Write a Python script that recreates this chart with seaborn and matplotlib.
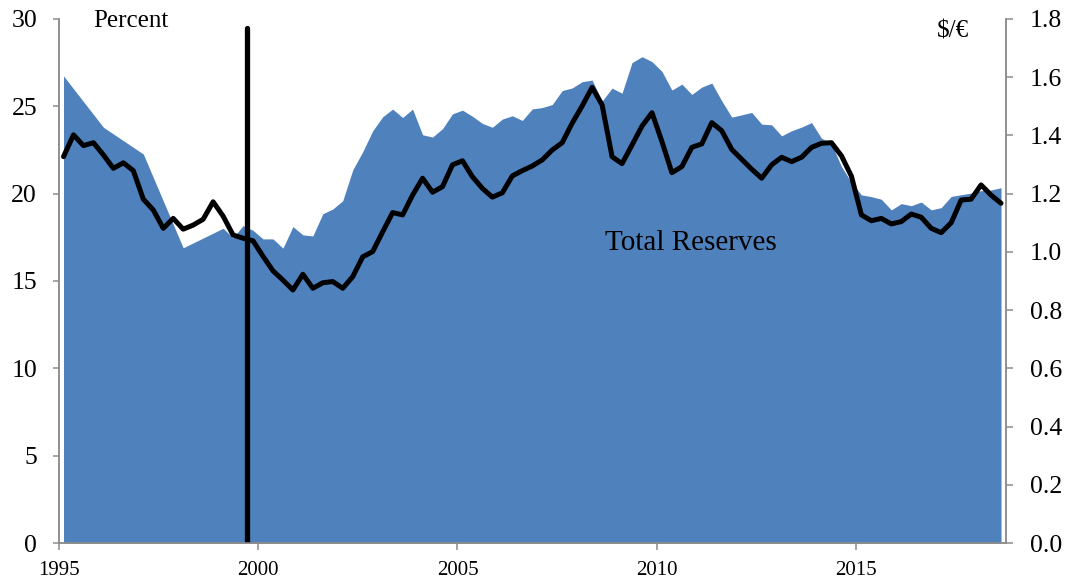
import numpy as np
import pandas as pd
import matplotlib
matplotlib.use('Agg')
import matplotlib.pyplot as plt
from matplotlib.ticker import FormatStrFormatter
import seaborn as sns

# quarterly series, 1995Q1 .. 2018Q3 (plotted mid-quarter)
start_year = 1995
n_quarters = 95

# $/€ exchange rate, quarterly average
usd_per_eur = [
    1.327, 1.402, 1.365, 1.375,   # 1995
    1.333, 1.287, 1.306, 1.279,   # 1996
    1.181, 1.144, 1.081, 1.115,   # 1997
    1.078, 1.092, 1.112, 1.172,   # 1998
    1.123, 1.058, 1.047, 1.038,   # 1999
    0.985, 0.935, 0.903, 0.869,   # 2000
    0.923, 0.875, 0.894, 0.898,   # 2001
    0.875, 0.915, 0.983, 1.001,   # 2002
    1.069, 1.135, 1.127, 1.195,   # 2003
    1.253, 1.205, 1.224, 1.299,   # 2004
    1.313, 1.258, 1.218, 1.188,   # 2005
    1.203, 1.261, 1.279, 1.295,   # 2006
    1.316, 1.350, 1.375, 1.442,   # 2007
    1.501, 1.565, 1.505, 1.327,   # 2008
    1.303, 1.367, 1.432, 1.478,   # 2009
    1.379, 1.272, 1.293, 1.359,   # 2010
    1.371, 1.444, 1.416, 1.352,   # 2011
    1.318, 1.284, 1.253, 1.299,   # 2012
    1.325, 1.310, 1.325, 1.359,   # 2013
    1.373, 1.375, 1.330, 1.260,   # 2014
    1.127, 1.107, 1.115, 1.096,   # 2015
    1.104, 1.130, 1.119, 1.081,   # 2016
    1.066, 1.100, 1.178, 1.181,   # 2017
    1.230, 1.195, 1.167,          # 2018
]

# euro share of total reserves (percent); annual only before 1999
reserves_pct = [
    26.74, None, None, None,      # 1995
    23.80, None, None, None,      # 1996
    22.27, None, None, None,      # 1997
    16.90, None, None, None,      # 1998
    18.02, 17.47, 18.17, 17.90,   # 1999
    17.41, 17.41, 16.88, 18.11,   # 2000
    17.64, 17.58, 18.85, 19.12,   # 2001
    19.60, 21.36, 22.40, 23.60,   # 2002
    24.40, 24.84, 24.36, 24.84,   # 2003
    23.37, 23.24, 23.72, 24.57,   # 2004
    24.78, 24.43, 24.02, 23.80,   # 2005
    24.27, 24.46, 24.19, 24.85,   # 2006
    24.93, 25.10, 25.90, 26.05,   # 2007
    26.41, 26.50, 25.30, 26.04,   # 2008
    25.75, 27.50, 27.84, 27.56,   # 2009
    27.00, 25.93, 26.27, 25.68,   # 2010
    26.10, 26.33, 25.31, 24.38,   # 2011
    24.51, 24.65, 23.98, 23.94,   # 2012
    23.31, 23.60, 23.81, 24.07,   # 2013
    23.17, 22.87, 21.55, 20.65,   # 2014
    19.93, 19.83, 19.68, 19.07,   # 2015
    19.43, 19.31, 19.52, 19.07,   # 2016
    19.20, 19.84, 19.94, 20.03,   # 2017
    20.17, 20.21, 20.34,          # 2018
]

euro_marker = 1999.72   # vertical marker line
year_ticks = [1995, 2000, 2005, 2010, 2015]

dates = start_year + (np.arange(n_quarters) + 0.5) / 4
df = pd.DataFrame({'date': dates, 'usd_eur': usd_per_eur,
                   'reserves': pd.to_numeric(pd.Series(reserves_pct), errors='coerce')})
area = df.dropna(subset=['reserves'])

sns.set_theme(style='white')
plt.rcParams['font.family'] = ['Liberation Serif', 'DejaVu Serif']
plt.rcParams['text.color'] = 'black'
plt.rcParams['xtick.labelcolor'] = 'black'
plt.rcParams['ytick.labelcolor'] = 'black'

axis_gray = '#8c8c8c'
fig, ax = plt.subplots(figsize=(10.7, 5.82), dpi=100)
fig.subplots_adjust(left=0.0547, right=0.9402, bottom=0.067, top=0.9674)

ax.fill_between(area['date'], 0, area['reserves'], color='#4f81bd', lw=0)
ax.set_xlim(1995, 2018.75)
ax.set_ylim(0, 30)
ax.set_yticks(range(0, 31, 5))
ax.set_xticks(year_ticks)
ax.tick_params(axis='y', direction='out', length=4.5, width=1.1, color=axis_gray,
               labelsize=18.5, pad=11, left=True, labelcolor='black')
ax.tick_params(axis='x', direction='out', length=5, width=1.1, color=axis_gray,
               labelsize=15, pad=8, bottom=True, labelcolor='black')

ax2 = ax.twinx()
sns.lineplot(data=df, x='date', y='usd_eur', ax=ax2, color='black', lw=3.6)
ax2.axvline(euro_marker, ymin=0, ymax=0.982, color='black', lw=3.8)
ax2.set_ylim(0, 1.8)
ax2.set_yticks(np.arange(0, 1.81, 0.2))
ax2.yaxis.set_major_formatter(FormatStrFormatter('%.1f'))
ax2.tick_params(axis='y', direction='out', length=5, width=1.1, color=axis_gray,
                labelsize=18.5, pad=12, right=True, labelcolor='black')
ax2.set_xlabel('')
ax2.set_ylabel('')
ax.set_xlabel('')

for a in (ax, ax2):
    a.spines['top'].set_visible(False)
    for s in ('left', 'right', 'bottom'):
        a.spines[s].set_color(axis_gray)
        a.spines[s].set_linewidth(1.1)
    a.grid(False)

ax.text(0.0364, 0.9853, 'Percent', transform=ax.transAxes, fontsize=18,
        ha='left', va='baseline', color='black')
ax.text(0.927, 0.9637, '$/€', transform=ax.transAxes, fontsize=18,
        ha='left', va='baseline', color='black')
ax.text(0.5768, 0.559, 'Total Reserves', transform=ax.transAxes, fontsize=21,
        ha='left', va='baseline', color='black')

plt.savefig('out.png', dpi=100)
